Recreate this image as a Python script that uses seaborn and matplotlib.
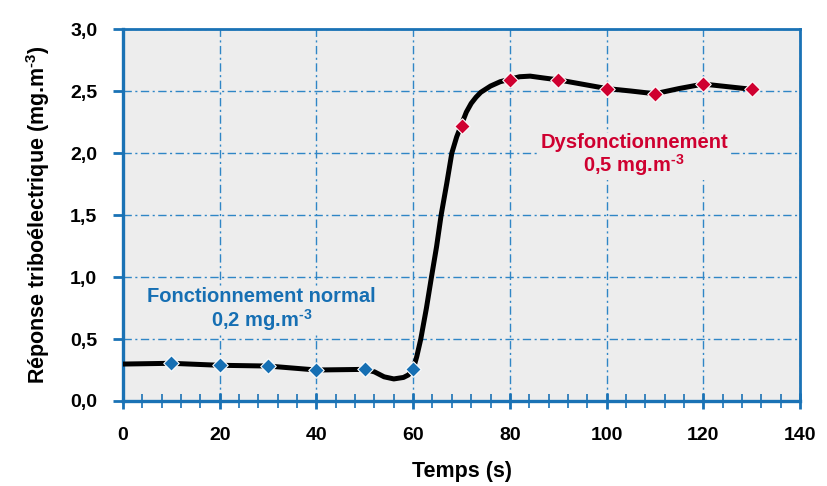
"""Triboelectric response versus time: normal operation then malfunction."""

import matplotlib
matplotlib.use("Agg")
import matplotlib.pyplot as plt
from matplotlib.font_manager import FontProperties
import pandas as pd
import seaborn as sns

# smooth black curve
curve_t = [0, 10, 20, 30, 40, 50, 52, 54, 56, 58, 59, 60, 60.74, 61.58, 62.74,
           63.79, 64.84, 65.79, 66.95, 68.0, 69, 70, 71, 72, 73, 74, 76, 78,
           80, 82, 84.2, 87, 90, 95, 100, 105, 110, 115, 120, 125, 130]
curve_y = [0.298, 0.304, 0.288, 0.282, 0.25, 0.255, 0.235, 0.195, 0.178, 0.19,
           0.21, 0.255, 0.357, 0.5, 0.748, 1.0, 1.244, 1.5, 1.755, 2.0, 2.13,
           2.23, 2.33, 2.40, 2.45, 2.49, 2.54, 2.575, 2.595, 2.615, 2.62,
           2.605, 2.59, 2.555, 2.52, 2.50, 2.478, 2.52, 2.556, 2.535, 2.514]

# measurement points
normal_t = [10, 20, 30, 40, 50, 60]
normal_y = [0.304, 0.288, 0.282, 0.25, 0.255, 0.255]
fault_t = [70, 80, 90, 100, 110, 120, 130]
fault_y = [2.22, 2.59, 2.59, 2.52, 2.478, 2.556, 2.514]

x_ticks = [0, 20, 40, 60, 80, 100, 120, 140]
y_ticks = [0.0, 0.5, 1.0, 1.5, 2.0, 2.5, 3.0]
y_tick_labels = ["0,0", "0,5", "1,0", "1,5", "2,0", "2,5", "3,0"]

BLUE = "#1a72b5"
GRID_BLUE = "#2f86c6"
MARK_BLUE = "#166fb3"
RED = "#cf0030"
BG = "#ededed"

sns.set_theme(style="ticks")
plt.rcParams["font.family"] = ["Liberation Sans", "DejaVu Sans"]
plt.rcParams["text.color"] = "black"
plt.rcParams["axes.labelcolor"] = "black"
plt.rcParams["xtick.labelcolor"] = "black"
plt.rcParams["ytick.labelcolor"] = "black"
plt.rcParams["mathtext.fontset"] = "custom"
plt.rcParams["mathtext.rm"] = "Liberation Sans:bold"
plt.rcParams["mathtext.bf"] = "Liberation Sans:bold"
plt.rcParams["mathtext.default"] = "bf"

curve = pd.DataFrame({"t": curve_t, "y": curve_y})
normal = pd.DataFrame({"t": normal_t, "y": normal_y})
fault = pd.DataFrame({"t": fault_t, "y": fault_y})

fig = plt.figure(figsize=(8.27, 4.86), dpi=100)
ax = fig.add_axes([0.1487, 0.1749, 0.8187, 0.7654])
ax.set_facecolor(BG)

sns.lineplot(data=curve, x="t", y="y", color="black", linewidth=3.6,
             ax=ax, zorder=3)
sns.scatterplot(data=normal, x="t", y="y", marker="D", s=62, color=MARK_BLUE,
                edgecolor="white", linewidth=0.8, ax=ax, zorder=4)
sns.scatterplot(data=fault, x="t", y="y", marker="D", s=62, color=RED,
                edgecolor="white", linewidth=0.8, ax=ax, zorder=4)

ax.set_xlim(0, 140)
ax.set_ylim(0, 3)
ax.set_xticks(x_ticks)
ax.set_xticks(range(0, 141, 4), minor=True)
ax.set_yticks(y_ticks)
ax.set_yticklabels(y_tick_labels)

tick_font = FontProperties(family=["Liberation Sans Narrow", "Liberation Sans"],
                           weight="bold", size=14)
for lab in ax.get_xticklabels() + ax.get_yticklabels():
    lab.set_fontproperties(tick_font)
    lab.set_color("black")

ax.tick_params(axis="x", which="major", direction="inout", length=12,
               width=2, color=BLUE, pad=13)
ax.tick_params(axis="x", which="minor", direction="inout", length=9.5,
               width=1.2, color=BLUE)
ax.tick_params(axis="y", which="major", direction="out", length=7.5,
               width=2, color=BLUE, pad=11)

for side, lw in [("left", 2.4), ("bottom", 2.4), ("top", 2), ("right", 2)]:
    ax.spines[side].set_visible(True)
    ax.spines[side].set_color(BLUE)
    ax.spines[side].set_linewidth(lw)

ax.grid(True, which="major", color=GRID_BLUE, linewidth=1,
        linestyle=(0, (6, 2.5, 1.5, 2.5)))
ax.set_axisbelow(True)

ax.set_xlabel("Temps (s)", fontsize=15.5, fontweight="bold", labelpad=12)
ax.set_ylabel(r"Réponse triboélectrique (mg.m$^{\text{-3}}$)", fontsize=15.5,
              fontweight="bold", labelpad=13)

box = dict(facecolor=BG, edgecolor="none", pad=1.5)
ax.text(28.7, 0.734, "Fonctionnement normal\n0,2 mg.m$^{\\text{-3}}$",
        color=MARK_BLUE, fontsize=14.5, fontweight="bold", ha="center",
        va="center", linespacing=1.05, bbox=box, zorder=2)
ax.text(105.7, 1.98, "Dysfonctionnement\n0,5 mg.m$^{\\text{-3}}$", color=RED,
        fontsize=14.5, fontweight="bold", ha="center", va="center",
        linespacing=1.05, bbox=box, zorder=2)

fig.savefig("out.png", dpi=100)
plt.close(fig)
